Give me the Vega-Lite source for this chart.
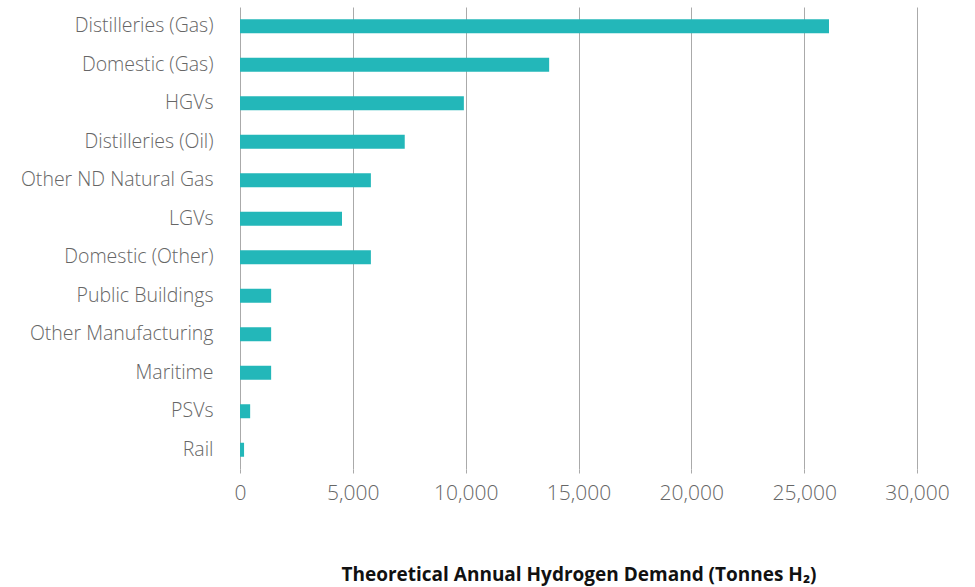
{
  "$schema": "https://vega.github.io/schema/vega-lite/v6.json",
  "autosize": {"type": "none"},
  "width": 677,
  "height": 462,
  "padding": {"left": 240, "top": 7, "right": 58, "bottom": 118},
  "background": "white",
  "data": {"values": [
    {"sector": "Distilleries (Gas)", "demand": 26100},
    {"sector": "Domestic (Gas)", "demand": 13700},
    {"sector": "HGVs", "demand": 9920},
    {"sector": "Distilleries (Oil)", "demand": 7300},
    {"sector": "Other ND Natural Gas", "demand": 5800},
    {"sector": "LGVs", "demand": 4520},
    {"sector": "Domestic (Other)", "demand": 5800},
    {"sector": "Public Buildings", "demand": 1380},
    {"sector": "Other Manufacturing", "demand": 1380},
    {"sector": "Maritime", "demand": 1380},
    {"sector": "PSVs", "demand": 450},
    {"sector": "Rail", "demand": 180}
  ]},
  "mark": {"type": "bar", "color": "#23b7b9", "size": 14},
  "encoding": {
    "y": {
      "field": "sector", "type": "nominal", "sort": null,
      "axis": {"title": null, "domain": false, "ticks": false, "grid": false, "labelLimit": 300,
        "labelFont": "Open Sans", "labelFontSize": 19.5, "labelFontWeight": 300, "labelColor": "#666666", "labelPadding": 27}
    },
    "x": {
      "field": "demand", "type": "quantitative",
      "scale": {"domain": [0, 30000], "nice": false},
      "axis": {"values": [0, 5000, 10000, 15000, 20000, 25000, 30000], "format": ",.0f",
        "title": "Theoretical Annual Hydrogen Demand (Tonnes H₂)",
        "titleFont": "Open Sans", "titleFontSize": 19, "titleFontWeight": "bold", "titleColor": "#111111",
        "titlePadding": 62,
        "domain": false, "tickSize": 4, "tickColor": "#aaaaaa",
        "grid": true, "gridColor": "#aaaaaa", "gridWidth": 1,
        "labelFlush": false, "labelOverlap": false,
        "labelFont": "Open Sans", "labelFontSize": 21, "labelFontWeight": 300, "labelColor": "#666666", "labelPadding": 9}
    }
  },
  "config": {"view": {"stroke": null}}
}
